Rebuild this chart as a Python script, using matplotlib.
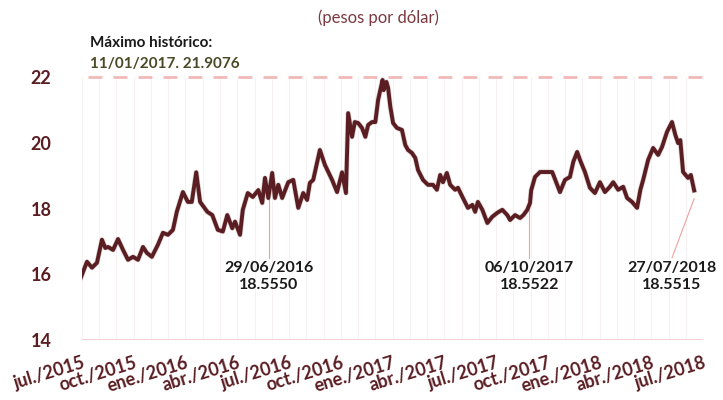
import numpy as np
import pandas as pd
import matplotlib
matplotlib.use('Agg')
import matplotlib.pyplot as plt
import matplotlib.dates as mdates
import matplotlib.patheffects as pe

plt.rcParams['font.family'] = ['Lato', 'DejaVu Sans']

# Tipo de cambio FIX (pesos por dólar), lectura aproximada del gráfico
fechas = [
    '2015-07-17', '2015-07-28', '2015-08-06', '2015-08-15', '2015-08-24', '2015-08-30',
    '2015-09-04', '2015-09-13', '2015-09-22', '2015-10-01', '2015-10-10', '2015-10-19',
    '2015-10-28', '2015-11-06', '2015-11-13', '2015-11-22', '2015-12-03', '2015-12-12',
    '2015-12-21', '2015-12-30', '2016-01-06', '2016-01-17', '2016-01-26', '2016-02-02',
    '2016-02-10', '2016-02-17', '2016-03-01', '2016-03-10', '2016-03-20', '2016-03-29',
    '2016-04-06', '2016-04-15', '2016-04-20', '2016-04-29', '2016-05-04', '2016-05-13',
    '2016-05-22', '2016-06-01', '2016-06-08', '2016-06-13', '2016-06-19', '2016-06-26',
    '2016-07-01', '2016-07-07', '2016-07-14', '2016-07-25', '2016-08-03', '2016-08-12',
    '2016-08-21', '2016-08-28', '2016-09-02', '2016-09-08', '2016-09-20', '2016-09-29',
    '2016-10-12', '2016-10-21', '2016-10-30', '2016-11-06', '2016-11-10', '2016-11-17',
    '2016-11-22', '2016-11-28', '2016-12-05', '2016-12-11', '2016-12-16', '2016-12-23',
    '2016-12-29', '2017-01-03', '2017-01-11', '2017-01-13', '2017-01-18', '2017-01-21',
    '2017-01-25', '2017-01-30', '2017-02-06', '2017-02-15', '2017-02-21', '2017-02-26',
    '2017-03-05', '2017-03-11', '2017-03-16', '2017-03-25', '2017-04-03', '2017-04-12',
    '2017-04-19', '2017-04-25', '2017-04-30', '2017-05-07', '2017-05-13', '2017-05-22',
    '2017-05-27', '2017-06-05', '2017-06-14', '2017-06-22', '2017-06-27', '2017-07-02',
    '2017-07-10', '2017-07-19', '2017-07-28', '2017-08-06', '2017-08-15', '2017-08-24',
    '2017-08-29', '2017-09-07', '2017-09-16', '2017-09-22', '2017-09-29', '2017-10-04',
    '2017-10-06', '2017-10-13', '2017-10-22', '2017-11-04', '2017-11-13', '2017-11-22',
    '2017-11-27', '2017-12-06', '2017-12-15', '2017-12-21', '2017-12-28', '2018-01-02',
    '2018-01-11', '2018-01-20', '2018-01-29', '2018-02-07', '2018-02-16', '2018-02-25',
    '2018-03-03', '2018-03-12', '2018-03-21', '2018-03-28', '2018-04-06', '2018-04-15',
    '2018-04-21', '2018-04-26', '2018-05-05', '2018-05-14', '2018-05-23', '2018-05-30',
    '2018-06-08', '2018-06-17', '2018-06-23', '2018-06-28', '2018-07-02', '2018-07-07',
    '2018-07-16', '2018-07-21', '2018-07-27',
]
tipo_cambio = [
    15.90, 16.38, 16.20, 16.35, 17.05, 16.80,
    16.83, 16.74, 17.07, 16.74, 16.44, 16.53,
    16.44, 16.83, 16.65, 16.53, 16.90, 17.26,
    17.20, 17.35, 17.90, 18.50, 18.20, 18.20,
    19.10, 18.20, 17.90, 17.80, 17.35, 17.30,
    17.80, 17.40, 17.60, 17.20, 17.96, 18.47,
    18.35, 18.56, 18.17, 18.93, 18.32, 19.08,
    18.32, 18.72, 18.32, 18.80, 18.87, 18.02,
    18.47, 18.26, 18.78, 18.87, 19.78, 19.33,
    18.87, 18.50, 19.10, 18.47, 20.90, 20.18,
    20.63, 20.60, 20.45, 20.18, 20.54, 20.63,
    20.63, 21.30, 21.91, 21.60, 21.85, 21.67,
    21.10, 20.60, 20.45, 20.39, 19.93, 19.78,
    19.69, 19.54, 19.17, 18.87, 18.72, 18.72,
    18.57, 19.02, 18.80, 19.08, 18.72, 18.57,
    18.63, 18.32, 18.02, 18.11, 17.90, 18.20,
    17.96, 17.56, 17.75, 17.87, 17.96, 17.80,
    17.65, 17.80, 17.71, 17.80, 17.96, 18.17,
    18.55, 18.96, 19.11, 19.11, 19.11, 18.72,
    18.50, 18.87, 18.96, 19.42, 19.72, 19.48,
    19.11, 18.63, 18.47, 18.80, 18.50, 18.66,
    18.80, 18.57, 18.66, 18.32, 18.20, 18.02,
    18.57, 18.87, 19.48, 19.84, 19.63, 19.87,
    20.33, 20.63, 20.24, 19.99, 20.08, 19.11,
    18.93, 19.02, 18.55,
]

etiquetas_x = ['jul./2015', 'oct./2015', 'ene./2016', 'abr./2016', 'jul./2016', 'oct./2016',
               'ene./2017', 'abr./2017', 'jul./2017', 'oct./2017', 'ene./2018', 'abr./2018',
               'jul./2018']
valores_y = [14, 16, 18, 20, 22]

# (fecha en la gráfica, fecha del texto, texto)
anotaciones = [
    ('2016-06-20', '2016-06-20', '29/06/2016\n18.5550'),
    ('2017-10-03', '2017-10-03', '06/10/2017\n18.5522'),
    ('2018-07-27', '2018-06-17', '27/07/2018\n18.5515'),
]
maximo_valor = 21.9076

vino = '#5a1d22'
rosa = '#f2b9b9'

x = mdates.date2num(pd.to_datetime(fechas))
fig = plt.figure(figsize=(7.23, 4.0), dpi=100)
ax = fig.add_axes([0.1134, 0.15, 0.859, 0.6575])

x0 = mdates.date2num(pd.Timestamp('2015-07-19'))
x1 = mdates.date2num(pd.Timestamp('2018-08-12'))
ax.set_xlim(x0, x1)
ax.set_ylim(14, 22)

for g in np.linspace(x0, x1, 37):
    ax.plot([g, g], [14, 22], color='#f6eeee', lw=0.6, zorder=1)
ax.axhline(14, color='#f0c8c8', lw=1.2, zorder=1)
ax.plot([x0 + 10, x1 + 15], [22, 22], color=rosa, lw=2, ls=(0, (5, 4)), clip_on=False, zorder=1)

ax.plot(x, tipo_cambio, color=vino, lw=2.8, zorder=3,
        path_effects=[pe.withStroke(linewidth=3.8, foreground='#b8a0a0', alpha=0.45)])

for fecha, fecha_txt, texto in anotaciones:
    xa = mdates.date2num(pd.Timestamp(fecha))
    xt = mdates.date2num(pd.Timestamp(fecha_txt))
    ax.plot([xa, xt], [18.3, 16.5], color='#f0a0a0', lw=0.8, zorder=2)
    ax.text(xt, 16.4, texto, ha='center', va='top', fontsize=11.5, fontweight='bold',
            color='#1a1a1a', linespacing=1.3, clip_on=False)

ax.set_xticks(np.linspace(x0, x1, 13))
ax.set_xticklabels(etiquetas_x, rotation=17, ha='right', rotation_mode='anchor')
ax.set_yticks(valores_y)
ax.set_yticklabels([str(v) for v in valores_y])
ax.tick_params(axis='both', length=0, labelsize=13, labelcolor=vino)
ax.tick_params(axis='x', pad=10)
ax.tick_params(axis='y', pad=22)
for lab in ax.get_xticklabels() + ax.get_yticklabels():
    lab.set_fontweight('bold')
for s in ax.spines.values():
    s.set_visible(False)

fig.text(0.523, 0.955, '(pesos por dólar)', ha='center', va='center', fontsize=12, color='#7b3a40')
fig.text(0.124, 0.892, 'Máximo histórico:', ha='left', va='center', fontsize=11,
         fontweight='bold', color='#1a1a1a')
fig.text(0.124, 0.84, '11/01/2017. ' + str(maximo_valor), ha='left', va='center', fontsize=11,
         fontweight='bold', color='#4a4a28')

fig.savefig('out.png', dpi=100)
